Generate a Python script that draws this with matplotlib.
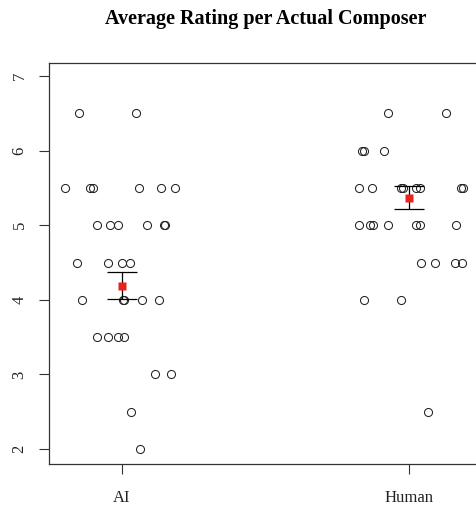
import numpy as np
import matplotlib
matplotlib.use("Agg")
from matplotlib import pyplot as plt

plt.rcParams['font.family'] = ['Liberation Serif', 'DejaVu Serif']

groups = ["AI", "Human"]

# ratings and the horizontal jitter
ai_ratings = [6.5, 6.5,
              5.5, 5.5, 5.5, 5.5, 5.5, 5.5,
              5.0, 5.0, 5.0, 5.0, 5.0, 5.0,
              4.5, 4.5, 4.5, 4.5,
              4.0, 4.0, 4.0, 4.0, 4.0,
              3.5, 3.5, 3.5, 3.5,
              3.0, 3.0,
              2.5,
              2.0]
ai_jitter = [-0.149, 0.049,
             -0.199, -0.111, -0.102, 0.060, 0.135, 0.184,
             -0.088, -0.042, -0.015, 0.088, 0.146, 0.150,
             -0.156, -0.049, 0.0, 0.028,
             -0.138, 0.003, 0.008, 0.069, 0.130,
             -0.088, -0.050, -0.013, 0.008,
             0.116, 0.171,
             0.031,
             0.062]

human_ratings = [6.5, 6.5,
                 6.0, 6.0, 6.0,
                 5.5, 5.5, 5.5, 5.5, 5.5, 5.5, 5.5, 5.5,
                 5.0, 5.0, 5.0, 5.0, 5.0, 5.0, 5.0,
                 4.5, 4.5, 4.5, 4.5,
                 4.0, 4.0,
                 2.5]
human_jitter = [-0.073, 0.130,
                -0.163, -0.156, -0.086,
                -0.174, -0.129, -0.029, -0.022, 0.024, 0.038, 0.181, 0.189,
                -0.174, -0.136, -0.124, -0.073, 0.023, 0.038, 0.163,
                0.041, 0.090, 0.160, 0.184,
                -0.156, -0.028,
                0.067]

means = [4.19, 5.37]
ses = [0.185, 0.15]

fig = plt.figure(figsize=(4.77, 5.08), dpi=100)
ax = fig.add_axes([49/477, 44/508, 433/477, 401/508])

for i, (r, j) in enumerate([(ai_ratings, ai_jitter), (human_ratings, human_jitter)]):
    x = i + 1 + np.array(j)
    ax.plot(x, r, 'o', ms=5.8, mfc='none', mec='#222222', mew=0.75, zorder=2)

pos = np.arange(1, len(groups) + 1)
ax.errorbar(pos, means, yerr=ses, fmt='none', ecolor='black', elinewidth=0.9,
            capsize=11, capthick=0.9, zorder=3)
ax.plot(pos, means, 's', ms=5.6, color='#e8231a', mec='none', zorder=4)

ax.set_xlim(0.7456, 2.2544)
ax.set_ylim(1.8, 7.175)
ax.set_xticks(pos)
ax.set_xticklabels(groups, fontsize=12)
ax.set_yticks([2, 3, 4, 5, 6, 7])
ax.set_yticklabels(['2', '3', '4', '5', '6', '7'], fontsize=12, rotation=90, va='center')
ax.tick_params(axis='both', direction='out', length=7.5, width=0.8, color='#333333',
               labelcolor='#222222')
ax.tick_params(axis='y', pad=8)
ax.tick_params(axis='x', pad=11)
for s in ax.spines.values():
    s.set_linewidth(0.9)
    s.set_color('#333333')

fig.text(0.5565, 1 - 19/508, "Average Rating per Actual Composer", ha='center', va='center',
         fontsize=14.5, fontweight='bold')

plt.savefig("out.png", dpi=100)
